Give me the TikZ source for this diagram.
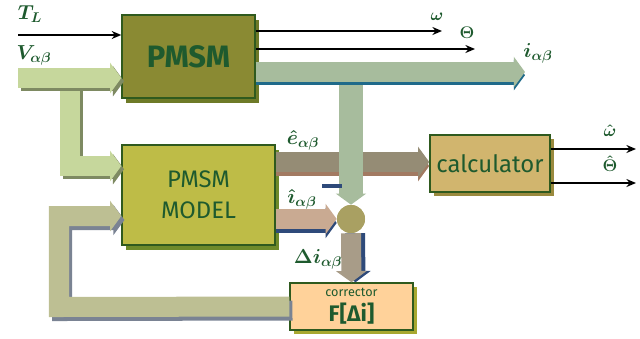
\documentclass[tikz,border=0pt]{standalone}
\usepackage{fontspec}
\setmainfont{Fira Sans}
\usetikzlibrary{arrows.meta,shadows}

\definecolor{txtgreen}{HTML}{1E5A2E}
\definecolor{edgegreen}{HTML}{2F5A1E}
\definecolor{pmsmfill}{HTML}{8A8A33}
\definecolor{pmsmshade}{HTML}{6E7A28}
\definecolor{modelfill}{HTML}{BEBC47}
\definecolor{modelshade}{HTML}{6E8A2A}
\definecolor{calcfill}{HTML}{D1B56E}
\definecolor{calcshade}{HTML}{9A8A3E}
\definecolor{corrfill}{HTML}{FFD29A}
\definecolor{corrshade}{HTML}{A8A830}
\definecolor{vfill}{HTML}{C6D79C}
\definecolor{vshade}{HTML}{7E8A62}
\definecolor{ifill}{HTML}{A7BC9D}
\definecolor{ishade}{HTML}{1F6A8A}
\definecolor{efill}{HTML}{958C75}
\definecolor{eshade}{HTML}{A27A62}
\definecolor{ihfill}{HTML}{C9AA92}
\definecolor{navy}{HTML}{2E4A7A}
\definecolor{dfill}{HTML}{A89C88}
\definecolor{fbfill}{HTML}{BDBF93}
\definecolor{fbshade}{HTML}{7A8393}
\definecolor{sumfill}{HTML}{A9A062}

\tikzset{
  block/.style={draw=edgegreen, line width=1pt, text=txtgreen, align=center, inner sep=0pt},
  band/.style={line width=0.5cm, line join=miter, -{Triangle[length=0.28cm,width=0.75cm]}},
  sig/.style={line width=1pt, -{Stealth[length=2.4mm,width=2mm]}},
  lbl/.style={text=txtgreen, font=\Large\boldmath, inner sep=1pt},
  slbl/.style={text=txtgreen, font=\large\boldmath, inner sep=1pt},
}

\begin{document}
\begin{tikzpicture}[x=0.025cm, y=-0.025cm]
    \useasboundingbox (0,0) rectangle (640,338);

    % Blocks
    \node[block, fill=pmsmfill, minimum width=3.325cm, minimum height=2.075cm,
          drop shadow={shadow xshift=0.1cm, shadow yshift=-0.12cm, fill=pmsmshade, opacity=1},
          font=\fontsize{22}{24}\selectfont\bfseries] (pmsm) at (188.5,56.5) {PMSM};
    \node[block, fill=modelfill, minimum width=3.825cm, minimum height=2.5cm,
          drop shadow={shadow xshift=0.1cm, shadow yshift=-0.12cm, fill=modelshade, opacity=1},
          font=\fontsize{17}{22}\selectfont] (model) at (198.5,195) {PMSM\\MODEL};
    \node[block, fill=calcfill, minimum width=3cm, minimum height=1.425cm,
          drop shadow={shadow xshift=0.1cm, shadow yshift=-0.1cm, fill=calcshade, opacity=1},
          font=\fontsize{17}{20}\selectfont] (calc) at (490,163.5) {calculator};
    \node[block, fill=corrfill, minimum width=3.075cm, minimum height=1.175cm,
          drop shadow={shadow xshift=0.1cm, shadow yshift=-0.1cm, fill=corrshade, opacity=1},
          font=\fontsize{9}{18}\selectfont] (corr) at (351.5,306.5)
          {corrector\\{\fontsize{16}{18}\selectfont\bfseries F[Δi]}};

    % Summing junction
    \node[circle, fill=sumfill, minimum size=0.7cm, inner sep=0pt] (sum) at (351,219) {};

    % Points for the connectors
    \coordinate (tl) at (18,35);
    \coordinate (vin) at (18,78);
    \coordinate (vsplit) at (70,78);
    \coordinate (vlow) at (70,166);
    \coordinate (om) at (442,31);
    \coordinate (th) at (475,49);
    \coordinate (iout) at (525,72);
    \coordinate (istem) at (351,72);
    \coordinate (fbdown) at (59,307);
    \coordinate (fbup) at (59,216);
    \coordinate (omh) at (636,149);
    \coordinate (thh) at (636,183);

    % Voltage input, to the motor and to the model
    \draw[band, vshade, transform canvas={shift={(0.07cm,-0.08cm)}}] (vsplit) -- (vlow) -- (model.west |- vlow);
    \draw[band, vfill] (vsplit) -- (vlow) -- (model.west |- vlow);
    \draw[band, vshade, transform canvas={shift={(0.07cm,-0.08cm)}}] (vin) -- (pmsm.west |- vin);
    \draw[band, vfill] (vin) -- (pmsm.west |- vin);

    % Measured current and its branch to the junction
    \draw[band, ifill, line width=0.6cm] (istem) -- (sum.north);
    \draw[band, ishade, transform canvas={shift={(0cm,-0.08cm)}}] (pmsm.east |- iout) -- (iout);
    \draw[band, ifill] (pmsm.east |- iout) -- (iout);

    % Estimated emf to the calculator
    \draw[band, eshade, transform canvas={shift={(0cm,-0.1cm)}}] (model.east |- 0,162) -- (calc.west |- 0,162);
    \draw[band, efill] (model.east |- 0,162) -- (calc.west |- 0,162);
    \draw[ifill, line width=0.6cm] (istem |- 0,140) -- (istem |- 0,185);

    % Estimated current to the junction
    \draw[band, navy, transform canvas={shift={(0cm,-0.1cm)}}] (model.east |- sum) -- (sum.west);
    \draw[band, ihfill] (model.east |- sum) -- (sum.west);

    % Current error to the corrector
    \draw[band, navy, transform canvas={shift={(0.1cm,0cm)}}] (sum.south) -- (corr.north);
    \draw[band, dfill] (sum.south) -- (corr.north);

    % Feedback from the corrector to the model
    \draw[band, fbshade, transform canvas={shift={(0.08cm,-0.1cm)}}] (corr.west) -- (fbdown) -- (fbup) -- (model.west |- fbup);
    \draw[band, fbfill] (corr.west) -- (fbdown) -- (fbup) -- (model.west |- fbup);

    \node[circle, fill=sumfill, minimum size=0.7cm, inner sep=0pt] at (sum) {};

    % Thin signal arrows
    \draw[sig] (tl) -- (pmsm.west |- tl);
    \draw[sig] (pmsm.east |- om) -- (om);
    \draw[sig] (pmsm.east |- th) -- (th);
    \draw[sig] (calc.east |- omh) -- (omh);
    \draw[sig] (calc.east |- thh) -- (thh);

    % Minus sign at the junction
    \node[fill=navy, minimum width=0.5cm, minimum height=0.11cm, inner sep=0pt] (minus) at (332,186) {};

    % Labels
    \node[lbl] (ltl) at (30,14) {$T_L$};
    \node[lbl] (lv) at (34,55) {$V_{\alpha\beta}$};
    \node[slbl] (lom) at (437,17) {$\omega$};
    \node[slbl] (lth) at (467,33) {$\Theta$};
    \node[lbl] (li) at (538,53) {$i_{\alpha\beta}$};
    \node[lbl] (le) at (303,140) {$\hat{e}_{\alpha\beta}$};
    \node[lbl] (lih) at (302,199) {$\hat{\imath}_{\alpha\beta}$};
    \node[lbl] (ld) at (318,259) {$\Delta i_{\alpha\beta}$};
    \node[slbl] (lomh) at (610,131) {$\hat{\omega}$};
    \node[slbl] (lthh) at (610,164) {$\hat{\Theta}$};

\end{tikzpicture}
\end{document}
